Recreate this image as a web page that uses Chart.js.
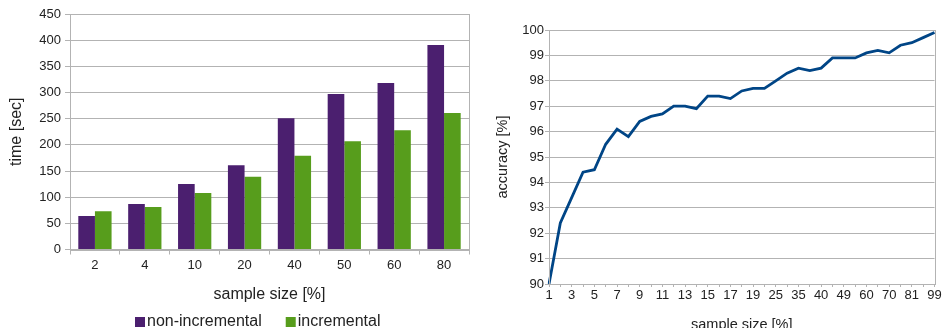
<!DOCTYPE html>
<html>
<head>
<meta charset="utf-8">
<script src="https://cdn.jsdelivr.net/npm/chart.js@4/dist/chart.umd.min.js"></script>
<style>
  html, body { margin: 0; padding: 0; background: #fff; overflow: hidden; width: 943px; height: 328px; }
  canvas { position: absolute; top: 0; }
  #c1 { left: 0; }
  #c2 { left: 480px; }
</style>
</head>
<body>
<canvas id="c1" width="480" height="328"></canvas>
<canvas id="c2" width="463" height="340"></canvas>
<script>
// ---- Data: left chart (time) ----
const sampleSizes = ['2', '4', '10', '20', '40', '50', '60', '80'];
const nonIncremental = [64, 87, 125, 161, 251, 297, 318, 391];
const incremental = [73, 81, 108, 139, 179, 207, 228, 261];
const timeTicks = [0, 50, 100, 150, 200, 250, 300, 350, 400, 450];

// ---- Data: right chart (accuracy) ----
const accCategories = ['1','2','3','4','5','6','7','8','9','10','11','12','13','14','15','16','17','18','19',
  '22','25','30','35','38','40','45','49','55','60','65','70','75','81','90','99'];
const accuracy = [90.0, 92.4, 93.4, 94.4, 94.5, 95.5, 96.1, 95.8, 96.4, 96.6, 96.7, 97.0, 97.0, 96.9,
  97.4, 97.4, 97.3, 97.6, 97.7, 97.7, 98.0, 98.3, 98.5, 98.4, 98.5, 98.9, 98.9, 98.9, 99.1, 99.2,
  99.1, 99.4, 99.5, 99.7, 99.9];
const accTicks = [90, 91, 92, 93, 94, 95, 96, 97, 98, 99, 100];

const FONT = 'Liberation Sans';
const TEXT = '#222';
const GRID = '#b3b3b3';
Chart.defaults.font.family = FONT;
Chart.defaults.color = TEXT;

const frame = {
  id: 'frame',
  afterDatasetsDraw(chart) {
    const a = chart.chartArea, ctx = chart.ctx;
    ctx.save();
    ctx.strokeStyle = GRID;
    ctx.lineWidth = 1;
    ctx.strokeRect(Math.round(a.left) + 0.5, Math.round(a.top) + 0.5,
      Math.round(a.right) - Math.round(a.left), Math.round(a.bottom) - Math.round(a.top));
    ctx.restore();
  }
};

const bottomLegend = {
  id: 'bottomLegend',
  afterDraw(chart) {
    const ctx = chart.ctx;
    ctx.save();
    ctx.font = '16px "' + FONT + '"';
    ctx.textBaseline = 'middle';
    ctx.textAlign = 'left';
    let x = 135;
    const y = 322;
    chart.data.datasets.forEach((ds) => {
      ctx.fillStyle = ds.backgroundColor;
      ctx.fillRect(x, y - 5, 10, 10);
      ctx.fillStyle = TEXT;
      ctx.fillText(ds.label, x + 12, y);
      x += 12 + ctx.measureText(ds.label).width + 24;
    });
    ctx.restore();
  }
};

new Chart(document.getElementById('c1'), {
  type: 'bar',
  data: {
    labels: sampleSizes,
    datasets: [
      { label: 'non-incremental', data: nonIncremental, backgroundColor: '#4b1f6f',
        categoryPercentage: 0.667, barPercentage: 1.0 },
      { label: 'incremental', data: incremental, backgroundColor: '#579d1c',
        categoryPercentage: 0.667, barPercentage: 1.0 }
    ]
  },
  options: {
    responsive: false,
    animation: false,
    devicePixelRatio: 1,
    layout: { padding: { top: 14, right: 11, left: 0, bottom: 0 } },
    plugins: { legend: { display: false }, tooltip: { enabled: false } },
    scales: {
      x: {
        grid: { drawOnChartArea: false, color: GRID, tickLength: 5, offset: true },
        border: { color: GRID },
        ticks: { font: { size: 13 }, padding: 3, color: TEXT, maxRotation: 0 },
        title: { display: true, text: 'sample size [%]', font: { size: 16 }, color: TEXT,
          padding: { top: 0, bottom: 24 } },
        afterFit: (s) => { s.height = 78.5; }
      },
      y: {
        min: 0, max: 450,
        afterBuildTicks: (s) => { s.ticks = timeTicks.map(v => ({ value: v })); },
        grid: { color: GRID, tickLength: 5 },
        border: { color: GRID },
        ticks: { font: { size: 13 }, padding: 4, color: TEXT },
        title: { display: true, text: 'time [sec]', font: { size: 16 }, color: TEXT,
          padding: { top: 7, bottom: 0 } },
        afterFit: (s) => { s.width = 70; }
      }
    }
  },
  plugins: [frame, bottomLegend]
});

new Chart(document.getElementById('c2'), {
  type: 'line',
  data: {
    labels: accCategories,
    datasets: [
      { label: 'accuracy', data: accuracy, borderColor: '#004586', backgroundColor: '#004586',
        borderWidth: 2.8, pointRadius: 0, tension: 0, fill: false }
    ]
  },
  options: {
    responsive: false,
    animation: false,
    devicePixelRatio: 1,
    layout: { padding: { top: 30, right: 8.5, left: 0, bottom: 0 } },
    plugins: { legend: { display: false }, tooltip: { enabled: false } },
    scales: {
      x: {
        offset: false,
        grid: { drawOnChartArea: false, color: GRID, tickLength: 3 },
        border: { color: GRID },
        ticks: {
          font: { size: 13 }, padding: 1, color: TEXT, autoSkip: false, maxRotation: 0,
          callback: function (v, i) { return i % 2 === 0 ? this.getLabelForValue(v) : ''; }
        },
        title: { display: true, text: 'sample size [%]', font: { size: 14.5 }, color: TEXT,
          padding: { top: 0, bottom: 6 } },
        afterFit: (s) => { s.height = 56; }
      },
      y: {
        min: 90, max: 100,
        afterBuildTicks: (s) => { s.ticks = accTicks.map(v => ({ value: v })); },
        grid: { color: GRID, tickLength: 4 },
        border: { color: GRID },
        ticks: { font: { size: 13 }, padding: 1, color: TEXT },
        title: { display: true, text: 'accuracy [%]', font: { size: 14.5 }, color: TEXT,
          padding: { top: 14, bottom: 0 } },
        afterFit: (s) => { s.width = 69; }
      }
    }
  },
  plugins: [frame]
});
</script>
</body>
</html>
